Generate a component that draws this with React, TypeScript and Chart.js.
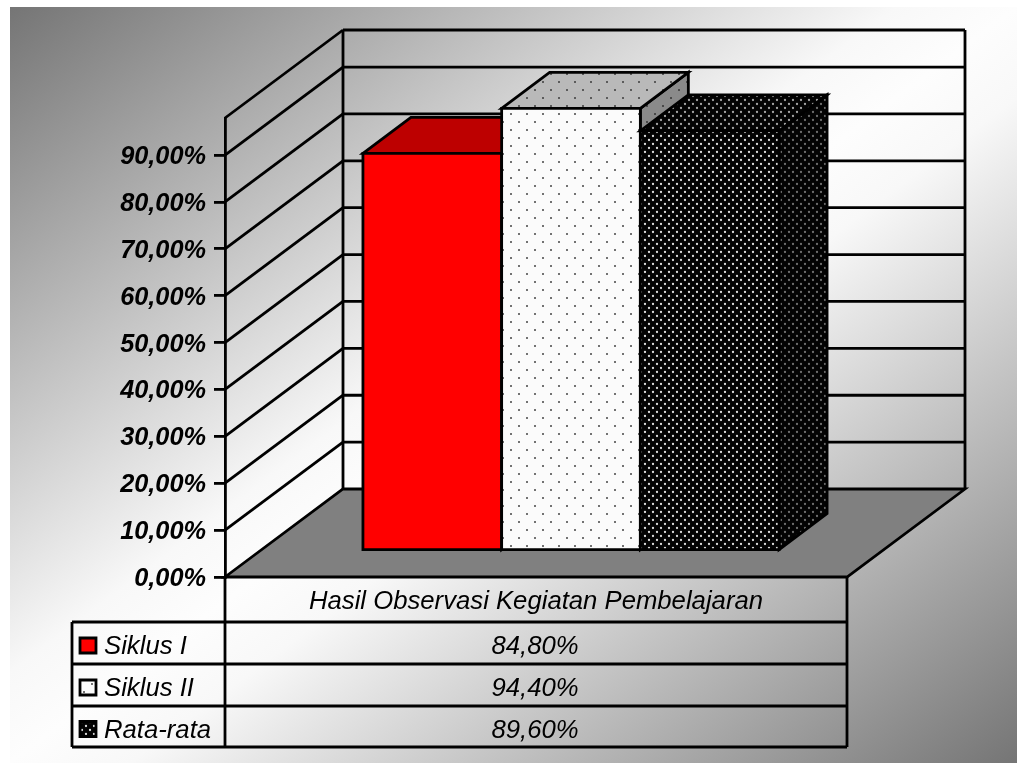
import React, { useEffect, useRef } from "react";
import { Chart, registerables } from "chart.js";

Chart.register(...registerables);

// Chart values
const categories = ["Hasil Observasi Kegiatan Pembelajaran"];
const seriesNames = ["Siklus I", "Siklus II", "Rata-rata"];
const siklusI = [84.8];
const siklusII = [94.4];
const rataRata = [89.6];
const axisMax = 97.9;
const axisStep = 10;

// Canvas and plot frame
const WIDTH = 1017;
const HEIGHT = 763;
const FRAME = { left: 225, right: 847, top: 118, bottom: 577 };
const WALL = { dx: 118, dy: -88 };
const BAR_FRONT = { dx: 35, dy: -26 };
const BAR_DEPTH = { dx: 48, dy: -36 };
const TABLE = { left: 72, rows: [622, 664, 706, 747] };

const FONT_NAME = '"Liberation Sans", Arial, sans-serif';
const LINE = "#000000";
const RULE_WIDTH = 2.8;

const percent = (v: number) => v.toFixed(2).replace(".", ",") + "%";

function dotPattern(
  ctx: CanvasRenderingContext2D,
  tile: number,
  ground: string,
  dot: string,
  radius: number
) {
  const c = document.createElement("canvas");
  c.width = tile;
  c.height = tile;
  const g = c.getContext("2d")!;
  g.fillStyle = ground;
  g.fillRect(0, 0, tile, tile);
  g.fillStyle = dot;
  const half = tile / 2;
  const spots = [
    [half / 2, half / 2],
    [half / 2 + half, half / 2 + half],
  ];
  for (const [x, y] of spots) {
    g.beginPath();
    g.arc(x, y, radius, 0, Math.PI * 2);
    g.fill();
  }
  return ctx.createPattern(c, "repeat")!;
}

function polygon(
  ctx: CanvasRenderingContext2D,
  pts: number[][],
  fill: string | CanvasPattern | null,
  width = RULE_WIDTH
) {
  ctx.beginPath();
  pts.forEach(([x, y], i) => (i ? ctx.lineTo(x, y) : ctx.moveTo(x, y)));
  ctx.closePath();
  if (fill) {
    ctx.fillStyle = fill;
    ctx.fill();
  }
  ctx.lineWidth = width;
  ctx.strokeStyle = LINE;
  ctx.lineJoin = "miter";
  ctx.stroke();
}

function segment(ctx: CanvasRenderingContext2D, x1: number, y1: number, x2: number, y2: number) {
  ctx.beginPath();
  ctx.moveTo(x1, y1);
  ctx.lineTo(x2, y2);
  ctx.lineWidth = RULE_WIDTH;
  ctx.strokeStyle = LINE;
  ctx.stroke();
}

// Diagonal page shading whose lighter band runs through the other two corners
function paintBackdrop(ctx: CanvasRenderingContext2D) {
  const x0 = 10;
  const y0 = 7;
  const w = WIDTH - x0;
  const h = HEIGHT - y0;
  const cx = x0 + w / 2;
  const cy = y0 + h / 2;
  const len = Math.hypot(w, h);
  const nx = h / len;
  const ny = w / len;
  const reach = (w / 2) * nx + (h / 2) * ny;
  const grad = ctx.createLinearGradient(
    cx - nx * reach,
    cy - ny * reach,
    cx + nx * reach,
    cy + ny * reach
  );
  grad.addColorStop(0, "#757575");
  grad.addColorStop(0.44, "#f8f8f8");
  grad.addColorStop(0.5, "#fdfdfd");
  grad.addColorStop(0.56, "#f8f8f8");
  grad.addColorStop(1, "#757575");
  ctx.fillStyle = "#ffffff";
  ctx.fillRect(0, 0, WIDTH, HEIGHT);
  ctx.fillStyle = grad;
  ctx.fillRect(x0, y0, w, h);
}

const scene = {
  id: "scene",
  beforeDraw(chart: any) {
    const { ctx, scales, chartArea } = chart;
    const y = scales.y;
    const { left, right, top, bottom } = chartArea;
    const { dx, dy } = WALL;

    ctx.save();
    paintBackdrop(ctx);

    // Floor
    polygon(
      ctx,
      [
        [left, bottom],
        [left + dx, bottom + dy],
        [right + dx, bottom + dy],
        [right, bottom],
      ],
      "#808080"
    );

    // Side and back wall rules
    y.ticks.forEach((t: any) => {
      const py = y.getPixelForValue(t.value);
      if (t.value === 0) return;
      segment(ctx, left, py, left + dx, py + dy);
      segment(ctx, left + dx, py + dy, right + dx, py + dy);
    });
    segment(ctx, left, top, left + dx, top + dy);
    segment(ctx, left + dx, top + dy, right + dx, top + dy);
    segment(ctx, left + dx, top + dy, left + dx, bottom + dy);
    segment(ctx, right + dx, top + dy, right + dx, bottom + dy);

    // Data table
    const rows = TABLE.rows;
    segment(ctx, left, bottom, left, rows[3]);
    segment(ctx, right, bottom, right, rows[3]);
    segment(ctx, TABLE.left, rows[0], TABLE.left, rows[3]);
    rows.forEach((r) => segment(ctx, TABLE.left, r, right, r));

    ctx.font = `italic 25.7px ${FONT_NAME}`;
    ctx.textBaseline = "middle";
    chart.data.datasets.forEach((ds: any, i: number) => {
      const mid = (rows[i] + rows[i + 1]) / 2 + 3;
      ctx.textAlign = "left";
      ctx.fillStyle = "#000000";
      ctx.fillText(ds.label, 104, mid + 1);
      ctx.textAlign = "center";
      ctx.fillText(percent(ds.data[0]), (left + right) / 2 - 1, mid + 1);
      polygon(ctx, [[80, mid - 8], [96, mid - 8], [96, mid + 7], [80, mid + 7]], ds.backgroundColor);
    });
    ctx.restore();
  },
  // Bars are painted left to right so each hides the faces of the one before it
  beforeDatasetsDraw(chart: any) {
    const { ctx } = chart;
    ctx.save();
    ctx.translate(BAR_FRONT.dx, BAR_FRONT.dy);
    const { dx, dy } = BAR_DEPTH;
    chart.data.datasets.forEach((ds: any, i: number) => {
      const bar = chart.getDatasetMeta(i).data[0];
      const { x, y, base, width } = bar.getProps(["x", "y", "base", "width"], true);
      const l = x - width / 2;
      const r = x + width / 2;
      polygon(ctx, [[r, y], [r + dx, y + dy], [r + dx, base + dy], [r, base]], ds.sideColor);
      polygon(ctx, [[l, y], [l + dx, y + dy], [r + dx, y + dy], [r, y]], ds.topColor);
      bar.draw(ctx, chart.chartArea);
      polygon(ctx, [[l, y], [r, y], [r, base], [l, base]], null);
    });
    ctx.restore();
    return false;
  },
};

export default function App() {
  const ref = useRef<HTMLCanvasElement>(null);

  useEffect(() => {
    const canvas = ref.current!;
    const ctx = canvas.getContext("2d")!;
    const flat = { borderWidth: 0, inflateAmount: 0 };

    const chart = new Chart(canvas, {
      type: "bar",
      data: {
        labels: categories,
        datasets: [
          {
            label: seriesNames[0],
            data: siklusI,
            backgroundColor: "#ff0000",
            sideColor: "#7f0000",
            topColor: "#bd0000",
            ...flat,
          },
          {
            label: seriesNames[1],
            data: siklusII,
            backgroundColor: dotPattern(ctx, 16, "#fbfbfb", "#444444", 1),
            sideColor: dotPattern(ctx, 16, "#8a8a8a", "#333333", 1),
            topColor: dotPattern(ctx, 16, "#b9b9b9", "#3c3c3c", 1),
            ...flat,
          },
          {
            label: seriesNames[2],
            data: rataRata,
            backgroundColor: dotPattern(ctx, 8, "#030303", "#dcdcdc", 1.15),
            sideColor: dotPattern(ctx, 8, "#030303", "#6e6e6e", 1.15),
            topColor: dotPattern(ctx, 8, "#030303", "#a4a4a4", 1.15),
            ...flat,
          },
        ] as any,
      },
      options: {
        responsive: false,
        animation: false,
        devicePixelRatio: 1,
        layout: {
          padding: { left: 0, top: FRAME.top, right: WIDTH - FRAME.right, bottom: 0 },
        },
        plugins: { legend: { display: false }, tooltip: { enabled: false } },
        datasets: { bar: { barPercentage: 1, categoryPercentage: 0.669 } },
        scales: {
          x: {
            grid: { display: false, drawTicks: false },
            border: { display: false },
            afterFit: (s: any) => {
              s.height = HEIGHT - FRAME.bottom;
            },
            ticks: {
              color: "#000000",
              padding: 9,
              maxRotation: 0,
              font: { family: FONT_NAME, size: 25.7, style: "italic" },
            },
          },
          y: {
            min: 0,
            max: axisMax,
            bounds: "data",
            afterFit: (s: any) => {
              s.width = FRAME.left;
            },
            grid: {
              drawOnChartArea: false,
              tickLength: 11,
              tickColor: LINE,
              lineWidth: RULE_WIDTH,
            },
            border: { display: true, color: LINE, width: RULE_WIDTH },
            ticks: {
              stepSize: axisStep,
              includeBounds: false,
              padding: 8,
              labelOffset: 2,
              color: "#000000",
              font: { family: FONT_NAME, size: 25.3, style: "italic", weight: "bold" },
              callback: (v: any) => percent(Number(v)),
            },
          },
        },
      } as any,
      plugins: [scene],
    });
    return () => chart.destroy();
  }, []);

  return (
    <canvas
      ref={ref}
      width={WIDTH}
      height={HEIGHT}
      style={{ position: "absolute", left: 0, top: 0, display: "block" }}
    />
  );
}
